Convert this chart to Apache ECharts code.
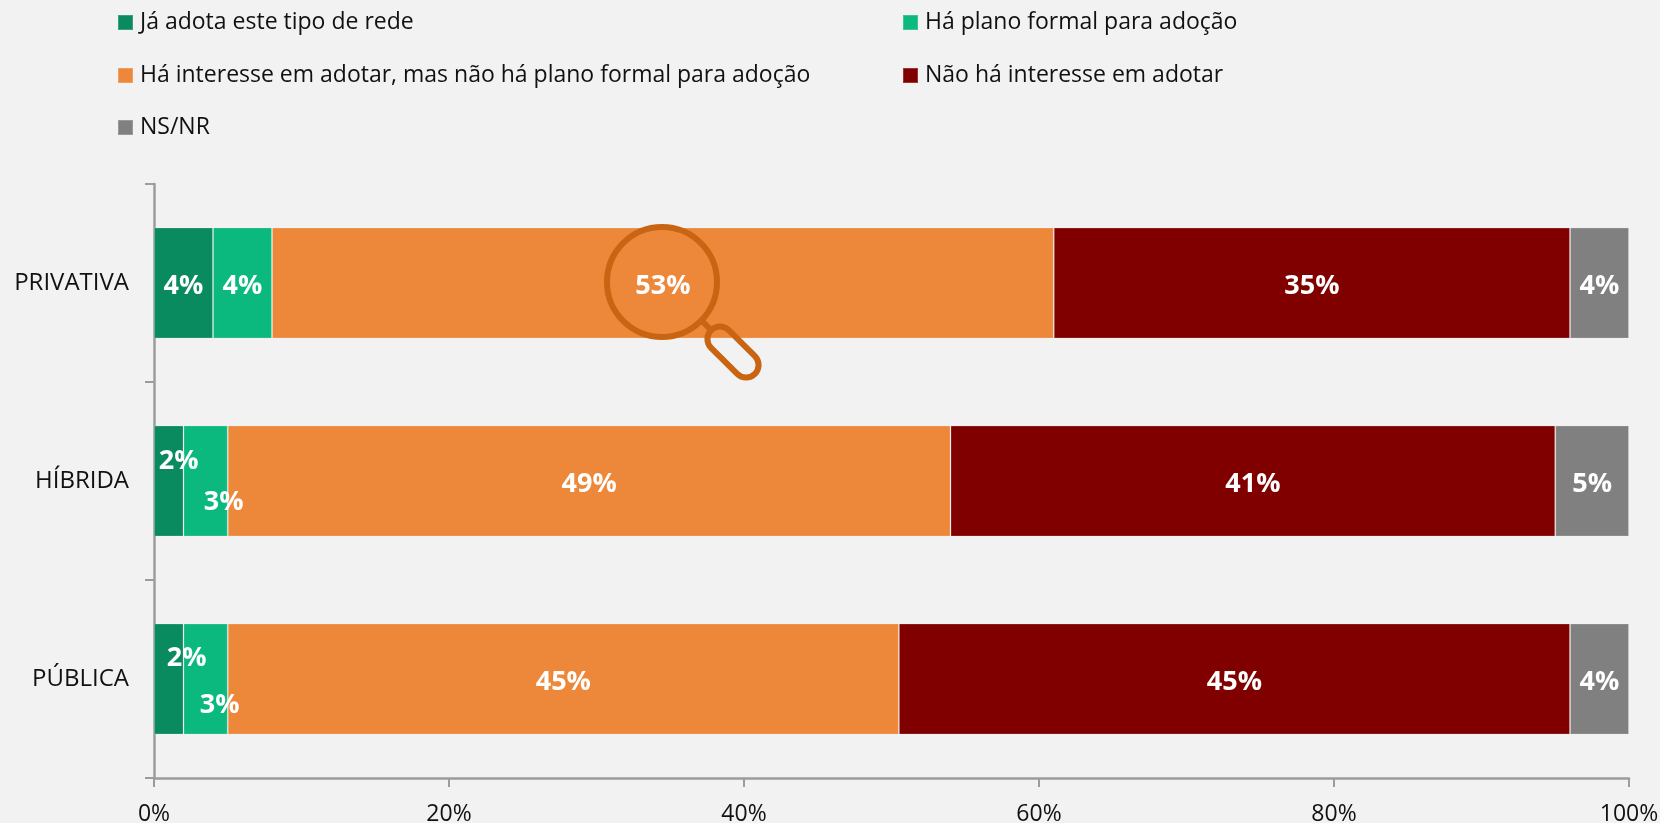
<!DOCTYPE html>
<html><head><meta charset="utf-8">
<style>html,body{margin:0;padding:0;background:#f2f2f2}#c{width:1660px;height:823px}</style>
<script src="https://cdn.jsdelivr.net/npm/echarts@6/dist/echarts.min.js"></script>
</head><body><div id="c"></div>
<script>
const categories = ['PÚBLICA','HÍBRIDA','PRIVATIVA'];
const seriesNames = ['Já adota este tipo de rede','Há plano formal para adoção','Há interesse em adotar, mas não há plano formal para adoção','Não há interesse em adotar','NS/NR'];
const jaAdota = [2,2,4];
const haPlano = [3,3,4];
const haInteresse = [45.5,49,53];
const naoInteresse = [45.5,41,35];
const nsNr = [4,5,4];
const printedJaAdota = ['2%','2%','4%'];
const printedHaPlano = ['3%','3%','4%'];
const printedHaInteresse = ['45%','49%','53%'];
const printedNaoInteresse = ['45%','41%','35%'];
const printedNsNr = ['4%','5%','4%'];

const colors = ['#0A8A5F','#0BB97E','#ED883B','#800000','#808080'];
const font = '"Open Sans"';
const values = [jaAdota,haPlano,haInteresse,naoInteresse,nsNr];
const printed = [printedJaAdota,printedHaPlano,printedHaInteresse,printedNaoInteresse,printedNsNr];
const nudges = {'0-0':[18,-24],'0-1':[14,23],'1-0':[10,-23],'1-1':[18,18]};
const legendSpots = [[117,11],[902,11],[117,64],[902,64],[117,116]];

const chart = echarts.init(document.getElementById('c'),null,{renderer:'canvas'});
chart.setOption({
  backgroundColor:'#F2F2F2',
  animation:false,
  legend: seriesNames.map((n,i)=>({
    data:[n],left:legendSpots[i][0],top:legendSpots[i][1],itemWidth:15,itemHeight:15,itemGap:0,padding:0,
    icon:'rect',selectedMode:false,
    textStyle:{fontFamily:font,fontSize:23,color:'#111',padding:[0,0,0,2]}
  })),
  grid:{left:154,right:31,top:184,bottom:45,containLabel:false,outerBoundsMode:'none'},
  xAxis:{type:'value',min:0,max:100,interval:20,
    axisLine:{show:true,lineStyle:{color:'#9C9C9C',width:2.5}},
    axisTick:{show:true,length:9,lineStyle:{color:'#9C9C9C',width:2}},
    splitLine:{show:false},
    axisLabel:{formatter:'{value}%',fontFamily:font,fontSize:23,color:'#111',margin:25}},
  yAxis:{type:'category',data:categories,
    axisLine:{show:true,lineStyle:{color:'#9C9C9C',width:2.5}},
    axisTick:{show:true,length:9,lineStyle:{color:'#9C9C9C',width:2},alignWithLabel:false},
    axisLabel:{fontFamily:font,fontSize:24,color:'#111',margin:25,padding:[6,0,0,0]}},
  series: seriesNames.map((n,i)=>({
    name:n,type:'bar',stack:'t',barWidth:111,
    itemStyle:{color:colors[i],borderColor:'rgba(242,242,242,0.22)',borderWidth:1},
    data:values[i].map((v,j)=>{
      const nudge = nudges[j+'-'+i]||[0,0];
      return {value:v,label:{show:true,formatter:printed[i][j],position:'inside',
        offset:[nudge[0],nudge[1]+3],color:'#fff',fontFamily:font,fontWeight:'bold',fontSize:27}};
    })
  })),
  graphic:[
    {type:'circle',shape:{cx:662,cy:282,r:55},style:{fill:'none',stroke:'#C96512',lineWidth:6},z:50},
    {type:'line',shape:{x1:703,y1:322,x2:713,y2:332},style:{stroke:'#C96512',lineWidth:6},z:50},
    {type:'rect',x:733,y:352,rotation:-Math.PI/4,shape:{x:-31,y:-12.5,width:62,height:25,r:12.5},style:{fill:'none',stroke:'#C96512',lineWidth:6},z:50}
  ]
});
</script></body></html>
